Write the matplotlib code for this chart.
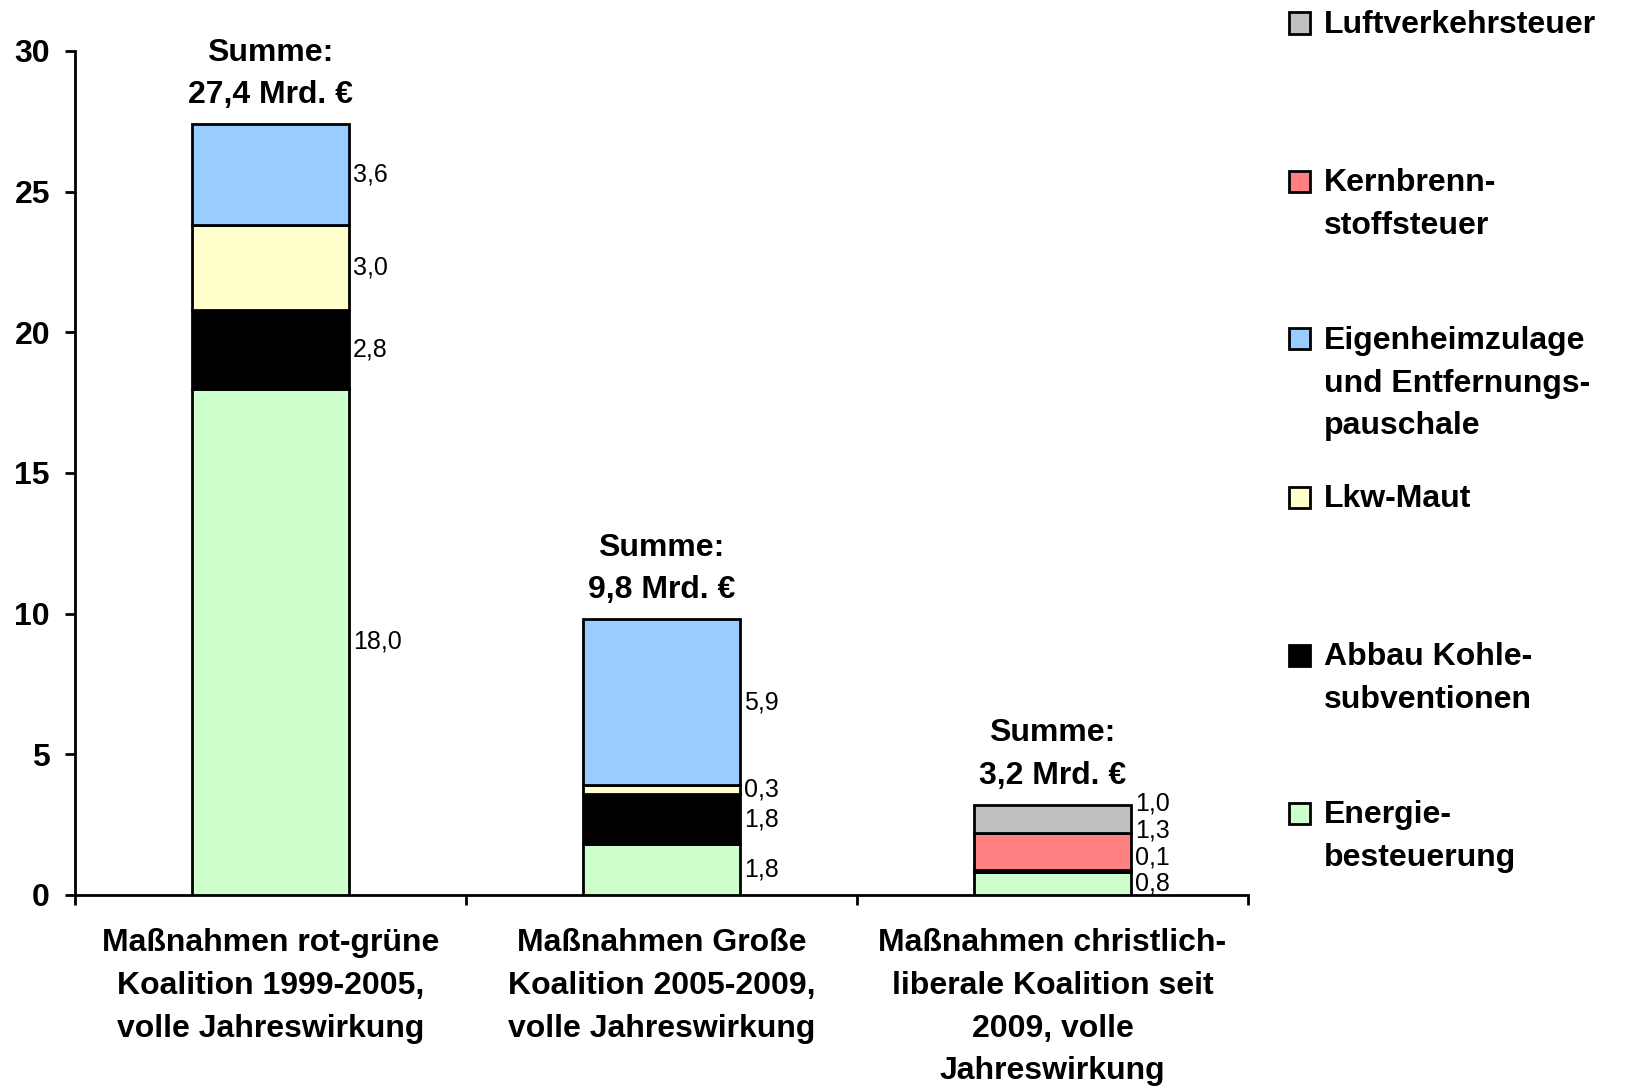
import numpy as np
import matplotlib
matplotlib.use("Agg")
import matplotlib.pyplot as plt
from matplotlib.patches import Rectangle

plt.rcParams['font.family'] = ['Liberation Sans', 'DejaVu Sans']

categories = [
    "Maßnahmen rot-grüne\nKoalition 1999-2005,\nvolle Jahreswirkung",
    "Maßnahmen Große\nKoalition 2005-2009,\nvolle Jahreswirkung",
    "Maßnahmen christlich-\nliberale Koalition seit\n2009, volle\nJahreswirkung",
]
series_names = [
    "Energie-\nbesteuerung",
    "Abbau Kohle-\nsubventionen",
    "Lkw-Maut",
    "Eigenheimzulage\nund Entfernungs-\npauschale",
    "Kernbrenn-\nstoffsteuer",
    "Luftverkehrsteuer",
]
energie = [18.0, 1.8, 0.8]
kohle = [2.8, 1.8, 0.0]
maut = [3.0, 0.3, 0.1]
eigenheim = [3.6, 5.9, 0.0]
kernbrenn = [0.0, 0.0, 1.3]
luftverkehr = [0.0, 0.0, 1.0]
totals = [27.4, 9.8, 3.2]
total_labels = ["27,4", "9,8", "3,2"]
yticks = [0, 5, 10, 15, 20, 25, 30]

series_values = [energie, kohle, maut, eigenheim, kernbrenn, luftverkehr]
colors = ["#CCFFCC", "#000000", "#FFFFCC", "#99CCFF", "#FF8080", "#C0C0C0"]

W, H = 1641, 1086
FS = 23
LS = 1.55
fig = plt.figure(figsize=(W / 100, H / 100), dpi=100)
ax = fig.add_axes([75 / W, (H - 895) / H, (1248 - 75) / W, (895 - 51) / H])

x = np.arange(len(categories))
bw = 0.40
bottoms = np.zeros(len(categories))
label_pos = [[] for _ in categories]
for vals, col in zip(series_values, colors):
    vals = np.array(vals)
    mask = vals > 0
    ax.bar(x[mask], vals[mask], bw, bottom=bottoms[mask], color=col,
           edgecolor="black", linewidth=2, zorder=3)
    for i in np.where(mask)[0]:
        label_pos[i].append((bottoms[i] + vals[i] / 2, vals[i]))
    bottoms = bottoms + vals

# value labels right of bars, pushed up to avoid overlap
minsep = 0.95
for i, labs in enumerate(label_pos):
    prev = -10
    for mid, v in labs:
        y = max(mid, prev + minsep)
        prev = y
        ax.annotate(f"{v:.1f}".replace(".", ","), xy=(x[i] + bw / 2, y),
                    xytext=(3, 0), textcoords="offset points",
                    ha="left", va="center", fontsize=18, color="black")

# sums above bars
for i, (t, tl) in enumerate(zip(totals, total_labels)):
    ax.annotate(f"Summe:\n{tl} Mrd. €", xy=(x[i], t), xytext=(0, 10),
                textcoords="offset points", ha="center", va="bottom",
                fontsize=FS, fontweight="bold", linespacing=LS)

ax.set_xlim(-0.5, 2.5)
ax.set_ylim(0, 30)
ax.set_yticks(yticks)
ax.set_yticklabels([str(v) for v in yticks], fontsize=FS, fontweight="bold")
ax.tick_params(axis="y", direction="out", length=7, width=2, pad=11)
ax.set_xticks([-0.5, 0.5, 1.5, 2.5])
ax.set_xticklabels([])
ax.tick_params(axis="x", direction="out", length=7, width=2)
for s in ["top", "right"]:
    ax.spines[s].set_visible(False)
for s in ["left", "bottom"]:
    ax.spines[s].set_linewidth(2)

for i, c in enumerate(categories):
    ax.annotate(c, xy=(x[i], 0), xytext=(0, -24), textcoords="offset points",
                ha="center", va="top", fontsize=FS, fontweight="bold",
                linespacing=LS)

# legend (top entry = last series)
sq = 21
step = 158
y0 = 23
for k, (name, col) in enumerate(zip(series_names[::-1], colors[::-1])):
    yc = y0 + k * step
    fig.add_artist(Rectangle((1289 / W, 1 - (yc + sq / 2) / H), sq / W, sq / H,
                             transform=fig.transFigure, facecolor=col,
                             edgecolor="black", linewidth=2))
    fig.text(1324 / W, 1 - (yc - 13) / H, name, ha="left", va="top",
             fontsize=FS, fontweight="bold", linespacing=LS)

fig.savefig("out.png", dpi=100)
